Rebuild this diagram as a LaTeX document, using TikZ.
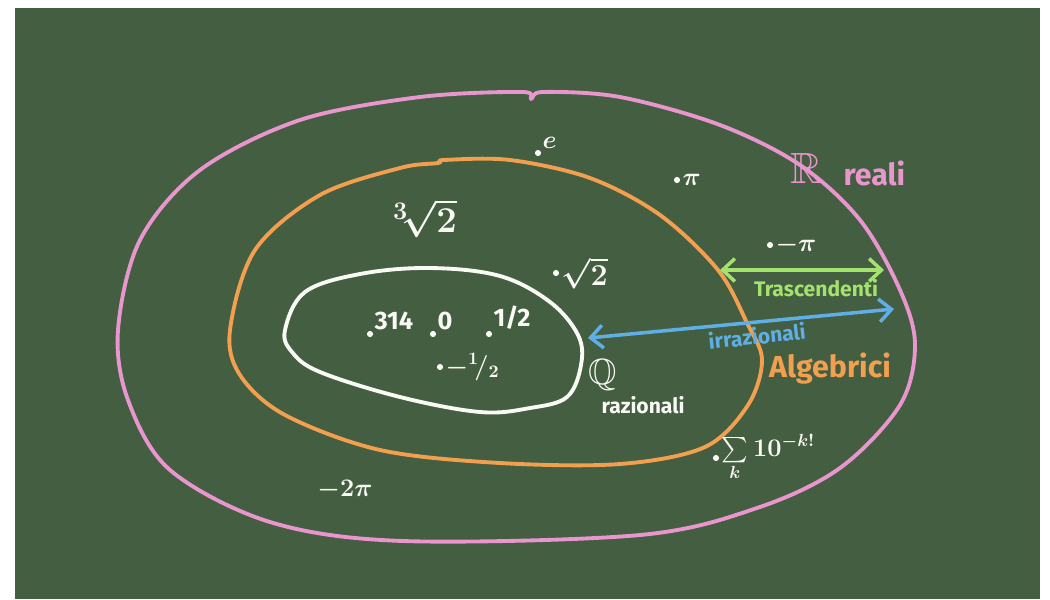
\documentclass[tikz,border=0pt]{standalone}
\usepackage{amssymb}
\usepackage{fontspec}
\setmainfont{Fira Sans}
\usetikzlibrary{arrows.meta, positioning}
\definecolor{boardGreen}{RGB}{68,94,66}
\definecolor{chalkPink}{RGB}{232,150,205}
\definecolor{chalkOrange}{RGB}{242,160,80}
\definecolor{chalkBlue}{RGB}{95,175,230}
\definecolor{chalkGreen}{RGB}{165,225,110}
\definecolor{chalkWhite}{RGB}{250,250,245}

\begin{document}
\begin{tikzpicture}[x=0.02cm, y=-0.02cm,
setline/.style={line width=2.2pt, line join=round},
pt/.style={circle, fill=chalkWhite, inner sep=0pt, minimum size=3.5pt},
num/.style={text=chalkWhite, font=\Large\bfseries\boldmath, inner sep=1pt},
word/.style={font=\large\bfseries\boldmath, inner sep=1pt},
arrow/.style={{Straight Barb[length=7pt,width=13pt]}-{Straight Barb[length=7pt,width=13pt]}, line width=2pt}]

\fill[white] (0,0) rectangle (1050,599);
\fill[boardGreen] (15,8) rectangle (1040,599);

\draw[setline, chalkPink] plot[smooth cycle, tension=0.55] coordinates {
  (118,330) (140,240) (200,170) (300,120) (420,97) (522,92) (531,99) (543,92)
  (620,97) (720,125) (800,165) (860,220) (900,290) (915,345) (900,405)
  (840,468) (757,508) (640,535) (403,541) (270,522) (170,470) (128,400)};
\draw[setline, chalkOrange] plot[smooth cycle, tension=0.55] coordinates {
  (230,330) (255,250) (320,195) (400,168) (438,163) (444,160) (510,160)
  (590,178) (660,215) (718,270) (747,323) (762,360) (748,405) (705,447)
  (620,464) (500,463) (380,450) (285,415) (240,375)};
\draw[setline, chalkWhite] plot[smooth cycle, tension=0.6] coordinates {
  (285,330) (305,292) (360,274) (430,268) (500,276) (550,302) (578,335)
  (581,365) (567,397) (530,408) (480,412) (400,397) (320,372) (292,352)};

\coordinate (trL) at (720,270);
\coordinate (trR) at (884,270);
\coordinate (irL) at (588,338);
\coordinate (irR) at (894,309);
\draw[arrow, chalkGreen] (trL) -- (trR);
\draw[arrow, chalkBlue] (irL) -- (irR);
\node[word, text=chalkGreen] (trasc) at (816,288) {Trascendenti};
\node[word, text=chalkBlue, rotate=6] (irraz) at (757,336) {irrazionali};

\node[word, text=chalkPink, font=\Huge] (realR) at (806,168) {$\mathbb{R}$};
\node[word, text=chalkPink, font=\LARGE\bfseries, right=10pt of realR, yshift=-3pt] (reali) {reali};
\node[word, text=chalkOrange, font=\LARGE\bfseries] (algeb) at (830,369) {Algebrici};
\node[word, text=chalkWhite, font=\huge] (ratQ) at (603,375) {$\mathbb{Q}$};
\node[word, text=chalkWhite] (razio) at (643,405) {razionali};

\node[pt] (pE) at (538,153) {};
\node[num, anchor=south west] (numE) at (pE.north east) {$e$};
\node[pt] (pPi) at (677,180) {};
\node[num, anchor=west] (numPi) at (pPi.east) {$\pi$};
\node[num, font=\huge\boldmath] (cbrt) at (425,218) {${}^3\!\sqrt{2}$};
\node[pt] (pSq) at (556,273) {};
\node[num, font=\LARGE\boldmath, anchor=west] (numSq) at (pSq.east) {$\sqrt{2}$};
\node[pt] (pMPi) at (770,245) {};
\node[num, anchor=west] (numMPi) at (pMPi.east) {$-\pi$};

\node[pt] (pA) at (370,334) {};
\node[num, anchor=south west] (numA) at (pA.north east) {314};
\node[pt] (pB) at (433,334) {};
\node[num, anchor=south west] (numB) at (pB.north east) {0};
\node[pt] (pC) at (489,334) {};
\node[num, anchor=south west] (numC) at (pC.north east) {1/2};
\node[pt] (pD) at (440,367) {};
\node[num, anchor=west] (numD) at (pD.east) {$-{}^1\!/_2$};

\node[pt] (pS) at (716,458) {};
\node[num, anchor=west] (numS) at (pS.east) {$\sum\limits_k 10^{-k!}$};
\node[num] (numM) at (345,490) {$-2\pi$};
\end{tikzpicture}
\end{document}
